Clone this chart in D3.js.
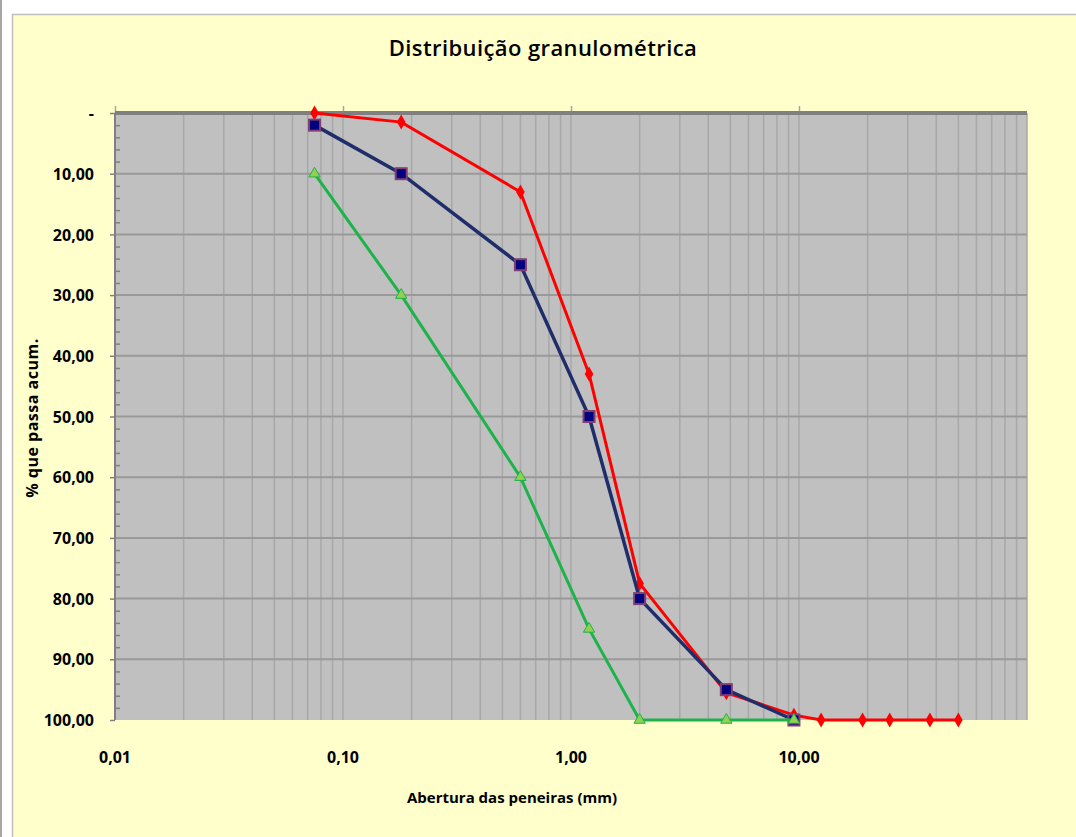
<!DOCTYPE html>
<html>
<head>
<meta charset="utf-8">
<script src="https://cdn.jsdelivr.net/npm/d3@7"></script>
<style>
    body { margin: 0; background: #fff; }
    text { font-family: "Open Sans", sans-serif; fill: #000; }
</style>
</head>
<body>
<div id="chart"></div>
<script>

// sieve openings (mm) and % passing
const sieves = [0.075, 0.18, 0.6, 1.2, 2.0, 4.8, 9.5];
const redSieves = [0.075, 0.18, 0.6, 1.2, 2.0, 4.8, 9.5, 12.5, 19, 25, 37.5, 50];
const redValues = [0, 1.5, 13, 43, 77.5, 95.5, 99.2, 100, 100, 100, 100, 100];
const navyValues = [2, 10, 25, 50, 80, 95, 100];
const greenValues = [10, 30, 60, 85, 100, 100, 100];

const yTicks = [0, 10, 20, 30, 40, 50, 60, 70, 80, 90, 100];
const xTicks = [0.01, 0.1, 1, 10];

const W = 1076, H = 837;
let margin = {top: 113, right: 49, bottom: 117, left: 115};
let width = W - margin.left - margin.right;
let height = H - margin.top - margin.bottom;

const svg = d3.select('#chart')
    .append('svg')
    .attr('width', W)
    .attr('height', H);

// page frame
svg.append('rect')
    .attr('x', 0).attr('y', 0).attr('width', 2).attr('height', H)
    .style('fill', '#a6a6a6');
svg.append('rect')
    .attr('x', 12.5).attr('y', 14.5).attr('width', W).attr('height', H)
    .style('fill', '#ffffcc')
    .style('stroke', '#bfbfbf')
    .style('stroke-width', 1.5);

svg.append('text')
    .attr('x', 543).attr('y', 56)
    .attr('text-anchor', 'middle')
    .style('font-size', '22px')
    .style('font-weight', '600')
    .style('letter-spacing', '0.4px')
    .text('Distribuição granulométrica');

const g = svg.append('g')
    .attr('transform', `translate(${margin.left},${margin.top})`);

var x = d3.scaleLog()
    .domain([0.01, 100])
    .range([0, width]);

var y = d3.scaleLinear()
    .domain([0, 100])
    .range([0, height]);

g.append('rect')
    .attr('width', width).attr('height', height)
    .style('fill', '#c0c0c0');

// vertical grid (every 1..9 of each decade)
const xGrid = [];
for (let e = -2; e < 2; e++) {
    for (let m = 1; m <= 9; m++) xGrid.push(m * Math.pow(10, e));
}
xGrid.push(100);

g.selectAll('.vgrid')
    .data(xGrid)
    .enter().append('line')
    .attr('class', 'vgrid')
    .attr('x1', d => x(d)).attr('x2', d => x(d))
    .attr('y1', 0).attr('y2', height)
    .style('stroke', '#a8a8a8')
    .style('stroke-width', 1.5);

g.selectAll('.hgrid')
    .data(yTicks.slice(1, -1))
    .enter().append('line')
    .attr('class', 'hgrid')
    .attr('x1', 0).attr('x2', width)
    .attr('y1', d => y(d)).attr('y2', d => y(d))
    .style('stroke', '#999')
    .style('stroke-width', 2);

// y axis
const yAxis = d3.axisLeft(y)
    .tickValues(yTicks)
    .tickSize(5)
    .tickPadding(16)
    .tickFormat(d => d === 0 ? '-' : d.toFixed(2).replace('.', ','));

g.append('g')
    .attr('class', 'y axis')
    .call(yAxis)
    .call(a => a.select('.domain').remove())
    .call(a => a.selectAll('line').style('stroke', '#808080').style('stroke-width', 1.5))
    .selectAll('text')
    .style('font-size', '16px')
    .style('font-weight', '700')
    .attr('dy', '0.35em');

g.append('g')
    .attr('class', 'y minor')
    .call(d3.axisRight(y).tickValues(d3.range(2, 100, 2).filter(v => v % 10 !== 0)).tickSize(5).tickFormat(''))
    .call(a => a.select('.domain').remove())
    .selectAll('line')
    .style('stroke', '#808080')
    .style('stroke-width', 1.5);

g.append('line')
    .attr('x1', 0).attr('x2', 0).attr('y1', 0).attr('y2', height)
    .style('stroke', '#808080').style('stroke-width', 2);

// x axis sits on top (value 0), labels below the plot
const xAxis = d3.axisTop(x)
    .tickValues(xTicks)
    .tickSize(7)
    .tickFormat('');

g.append('g')
    .attr('class', 'x axis')
    .call(xAxis)
    .call(a => a.select('.domain').remove())
    .selectAll('line')
    .style('stroke', '#a5a5a5')
    .style('stroke-width', 1.5);

g.append('line')
    .attr('x1', 0).attr('x2', width).attr('y1', 0).attr('y2', 0)
    .style('stroke', '#808080').style('stroke-width', 4);

g.selectAll('.xlabel')
    .data(xTicks)
    .enter().append('text')
    .attr('class', 'xlabel')
    .attr('x', d => x(d))
    .attr('y', height + 43)
    .attr('text-anchor', 'middle')
    .style('font-size', '16px')
    .style('font-weight', '700')
    .text(d => d.toFixed(2).replace('.', ','));

// axis titles
svg.append('text')
    .attr('x', 512).attr('y', 803)
    .attr('text-anchor', 'middle')
    .style('font-size', '15px')
    .style('font-weight', '700')
    .text('Abertura das peneiras (mm)');

svg.append('text')
    .attr('transform', 'translate(38,418) rotate(-90)')
    .attr('text-anchor', 'middle')
    .style('font-size', '16px')
    .style('font-weight', '700')
    .style('letter-spacing', '0.5px')
    .text('% que passa acum.');

// series
const line = d3.line()
    .x(d => x(d[0]))
    .y(d => y(d[1]));

const redData = redSieves.map((s, i) => [s, redValues[i]]);
const navyData = sieves.map((s, i) => [s, navyValues[i]]);
const greenData = sieves.map((s, i) => [s, greenValues[i]]);

g.append('path')
    .datum(redData)
    .attr('d', line)
    .style('fill', 'none')
    .style('stroke', '#ff0000')
    .style('stroke-width', 3);

g.selectAll('.red')
    .data(redData)
    .enter().append('path')
    .attr('class', 'red')
    .attr('transform', d => `translate(${x(d[0])},${y(d[1])})`)
    .attr('d', d3.symbol(d3.symbolDiamond, 65))
    .style('fill', '#ff0000');

g.append('path')
    .datum(navyData)
    .attr('d', line)
    .style('fill', 'none')
    .style('stroke', '#1f2d6b')
    .style('stroke-width', 3.5);

g.selectAll('.navy')
    .data(navyData)
    .enter().append('rect')
    .attr('class', 'navy')
    .attr('x', d => x(d[0]) - 5.5)
    .attr('y', d => y(d[1]) - 5.5)
    .attr('width', 11).attr('height', 11)
    .style('fill', '#000080')
    .style('stroke', '#7f3f6f')
    .style('stroke-width', 2);

g.append('path')
    .datum(greenData)
    .attr('d', line)
    .style('fill', 'none')
    .style('stroke', '#1db34a')
    .style('stroke-width', 3);

g.selectAll('.green')
    .data(greenData)
    .enter().append('path')
    .attr('class', 'green')
    .attr('transform', d => `translate(${x(d[0])},${y(d[1])})`)
    .attr('d', d3.symbol(d3.symbolTriangle, 55))
    .style('fill', '#92d050')
    .style('stroke', '#1db34a')
    .style('stroke-width', 1);

</script>
</body>
</html>
